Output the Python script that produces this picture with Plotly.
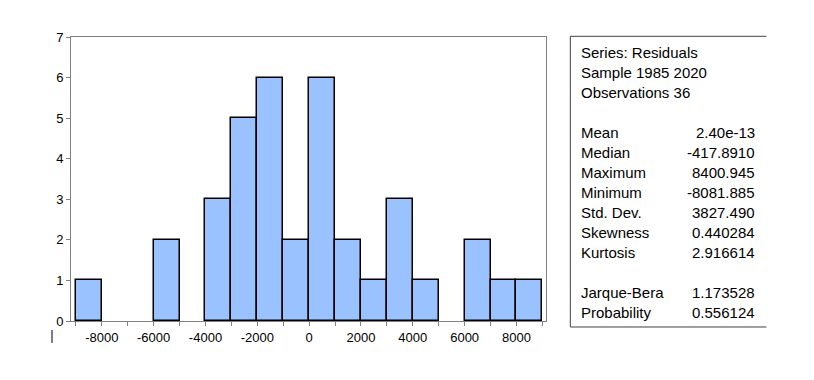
import plotly.graph_objects as go

# Data
bin_left_edges = [-9000, -8000, -7000, -6000, -5000, -4000, -3000, -2000, -1000,
                  0, 1000, 2000, 3000, 4000, 5000, 6000, 7000, 8000]
counts = [1, 0, 0, 2, 0, 3, 5, 6, 2, 6, 2, 1, 3, 1, 0, 2, 1, 1]
bin_width = 1000
x_tick_vals = list(range(-9000, 9001, 1000))
x_tick_labels = ["" if v % 2000 else str(v) for v in x_tick_vals]

header_lines = ["Series: Residuals", "Sample 1985 2020", "Observations 36"]
stat_names = ["Mean", "Median", "Maximum", "Minimum", "Std. Dev.", "Skewness", "Kurtosis"]
stat_values = ["2.40e-13", "-417.8910", "8400.945", "-8081.885", "3827.490", "0.440284", "2.916614"]
test_names = ["Jarque-Bera", "Probability"]
test_values = ["1.173528", "0.556124"]

W, H = 814, 380
L, R, T, B = 71, 545.7, 36.7, 321

def px(xp):
    return (xp - L) / (R - L)

def py(yp):
    return (B - yp) / (B - T)

centers = [e + bin_width / 2 for e in bin_left_edges]
bar_heights = [c if c > 0 else None for c in counts]

fig = go.Figure(go.Bar(
    x=centers, y=bar_heights, width=bin_width,
    marker=dict(color="#99C2FF", line=dict(color="#000000", width=1.5)),
    hoverinfo="skip",
))

font_family = "Liberation Sans, Arial, sans-serif"

fig.update_layout(
    width=W, height=H,
    margin=dict(l=L, r=W - R, t=T, b=H - B, autoexpand=False),
    paper_bgcolor="white", plot_bgcolor="white",
    showlegend=False,
    bargap=0,
    font=dict(family=font_family, size=13, color="#000000"),
    xaxis=dict(
        range=[-9190, 9140], tickvals=x_tick_vals, ticktext=x_tick_labels,
        ticks="outside", ticklen=4, tickcolor="#808080", tickwidth=1,
        showline=True, linecolor="#808080", linewidth=1, mirror=True,
        showgrid=False, zeroline=False, tickfont=dict(size=13),
    ),
    yaxis=dict(
        range=[0, 7], dtick=1, tick0=0,
        ticks="outside", ticklen=4, tickcolor="#808080", tickwidth=1,
        showline=True, linecolor="#808080", linewidth=1, mirror=True,
        showgrid=False, zeroline=False, tickfont=dict(size=13),
    ),
)

# Stats box: left, top, bottom lines
box_l, box_r, box_t, box_b = 570, 766, 36, 327
for (x0, y0, x1, y1) in [(box_l, box_t, box_r, box_t), (box_l, box_b, box_r, box_b),
                         (box_l, box_t, box_l, box_b)]:
    fig.add_shape(type="line", xref="paper", yref="paper",
                  x0=px(x0), y0=py(y0), x1=px(x1), y1=py(y1),
                  line=dict(color="#404040", width=1))

# small stray mark at lower-left
fig.add_shape(type="line", xref="paper", yref="paper",
              x0=px(52), y0=py(330), x1=px(52), y1=py(343),
              line=dict(color="#000000", width=1))

text_x, val_x = 579, 757
y = 52.3
step = 20
rows = []
for h in header_lines:
    rows.append((h, None, y)); y += step
y += step
for n, v in zip(stat_names, stat_values):
    rows.append((n, v, y)); y += step
y += step
for n, v in zip(test_names, test_values):
    rows.append((n, v, y)); y += step

for name, val, yy in rows:
    fig.add_annotation(xref="paper", yref="paper", x=px(text_x), y=py(yy),
                       text=name, showarrow=False, xanchor="left", yanchor="middle",
                       font=dict(size=15, family=font_family, color="#000000"))
    if val is not None:
        fig.add_annotation(xref="paper", yref="paper", x=px(val_x), y=py(yy),
                           text=val, showarrow=False, xanchor="right", yanchor="middle",
                           font=dict(size=15, family=font_family, color="#000000"))

fig.write_html("out.html", config={"displayModeBar": False},
               post_script="document.body.style.margin='0';")
